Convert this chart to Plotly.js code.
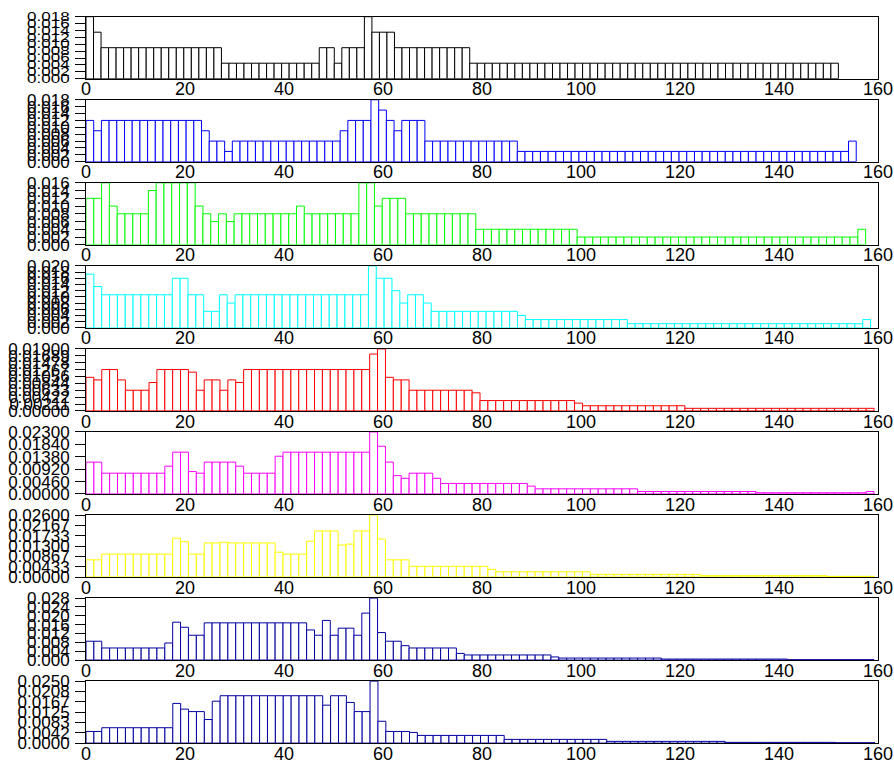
<!DOCTYPE html>
<html><head><meta charset="utf-8">
<script src="https://cdn.plot.ly/plotly-3.0.1.min.js"></script>
<style>html,body{margin:0;padding:0;background:#fff;}#chart{width:894px;height:763px;}</style>
</head><body><div id="chart"></div>
<script>
// histogram heights (density), 100 bins per panel
const p1 = [
0.018,0.0135,0.009,0.009,0.009,0.009,0.009,0.009,0.009,0.009,
0.009,0.009,0.009,0.009,0.009,0.009,0.009,0.009,0.0045,0.0045,
0.0045,0.0045,0.0045,0.0045,0.0045,0.0045,0.0045,0.0045,0.0045,0.0045,
0.0045,0.009,0.009,0.0045,0.009,0.009,0.009,0.018,0.0135,0.0135,
0.0135,0.009,0.009,0.009,0.009,0.009,0.009,0.009,0.009,0.009,
0.009,0.0045,0.0045,0.0045,0.0045,0.0045,0.0045,0.0045,0.0045,0.0045,
0.0045,0.0045,0.0045,0.0045,0.0045,0.0045,0.0045,0.0045,0.0045,0.0045,
0.0045,0.0045,0.0045,0.0045,0.0045,0.0045,0.0045,0.0045,0.0045,0.0045,
0.0045,0.0045,0.0045,0.0045,0.0045,0.0045,0.0045,0.0045,0.0045,0.0045,
0.0045,0.0045,0.0045,0.0045,0.0045,0.0045,0.0045,0.0045,0.0045,0.0045];
const p2 = [
0.012,0.009,0.012,0.012,0.012,0.012,0.012,0.012,0.012,0.012,
0.012,0.012,0.012,0.012,0.012,0.009,0.006,0.006,0.003,0.006,
0.006,0.006,0.006,0.006,0.006,0.006,0.006,0.006,0.006,0.006,
0.006,0.006,0.006,0.009,0.012,0.012,0.012,0.018,0.015,0.012,
0.009,0.012,0.012,0.012,0.006,0.006,0.006,0.006,0.006,0.006,
0.006,0.006,0.006,0.006,0.006,0.006,0.003,0.003,0.003,0.003,
0.003,0.003,0.003,0.003,0.003,0.003,0.003,0.003,0.003,0.003,
0.003,0.003,0.003,0.003,0.003,0.003,0.003,0.003,0.003,0.003,
0.003,0.003,0.003,0.003,0.003,0.003,0.003,0.003,0.003,0.003,
0.003,0.003,0.003,0.003,0.003,0.003,0.003,0.003,0.003,0.006];
const p3 = [
0.012,0.012,0.016,0.010,0.008,0.008,0.008,0.008,0.014,0.016,
0.016,0.016,0.016,0.016,0.010,0.008,0.006,0.008,0.006,0.008,
0.008,0.008,0.008,0.008,0.008,0.008,0.008,0.010,0.008,0.008,
0.008,0.008,0.008,0.008,0.008,0.016,0.016,0.010,0.012,0.012,
0.012,0.008,0.008,0.008,0.008,0.008,0.008,0.008,0.008,0.008,
0.004,0.004,0.004,0.004,0.004,0.004,0.004,0.004,0.004,0.004,
0.004,0.004,0.004,0.002,0.002,0.002,0.002,0.002,0.002,0.002,
0.002,0.002,0.002,0.002,0.002,0.002,0.002,0.002,0.002,0.002,
0.002,0.002,0.002,0.002,0.002,0.002,0.002,0.002,0.002,0.002,
0.002,0.002,0.002,0.002,0.002,0.002,0.002,0.002,0.002,0.004];
const p4 = [
0.01733,0.01333,0.01067,0.01067,0.01067,0.01067,0.01067,0.01067,0.01067,0.01067,
0.01067,0.016,0.016,0.01067,0.01067,0.00533,0.00533,0.01067,0.008,0.01067,
0.01067,0.01067,0.01067,0.01067,0.01067,0.01067,0.01067,0.01067,0.01067,0.01067,
0.01067,0.01067,0.01067,0.01067,0.01067,0.01067,0.020,0.016,0.016,0.012,
0.008,0.01067,0.01067,0.008,0.00533,0.00533,0.00533,0.00533,0.00533,0.00533,
0.00533,0.00533,0.00533,0.00533,0.00533,0.004,0.00267,0.00267,0.00267,0.00267,
0.00267,0.00267,0.00267,0.00267,0.00267,0.00267,0.00267,0.00267,0.00267,0.00133,
0.00133,0.00133,0.00133,0.00133,0.00133,0.00133,0.00133,0.00133,0.00133,0.00133,
0.00133,0.00133,0.00133,0.00133,0.00133,0.00133,0.00133,0.00133,0.00133,0.00133,
0.00133,0.00133,0.00133,0.00133,0.00133,0.00133,0.00133,0.00133,0.00133,0.00267];
const p5 = [
0.01029,0.0095,0.01267,0.01267,0.0095,0.00633,0.00633,0.00633,0.00871,0.01267,
0.01267,0.01267,0.01267,0.01188,0.00633,0.0095,0.0095,0.00633,0.0095,0.00871,
0.01267,0.01267,0.01267,0.01267,0.01267,0.01267,0.01267,0.01267,0.01267,0.01267,
0.01267,0.01267,0.01267,0.01267,0.01267,0.01267,0.01742,0.019,0.01029,0.0095,
0.0095,0.00633,0.00633,0.00633,0.00633,0.00633,0.00633,0.00633,0.00633,0.00554,
0.00317,0.00317,0.00317,0.00317,0.00317,0.00317,0.00317,0.00317,0.00317,0.00317,
0.00317,0.00317,0.00238,0.00158,0.00158,0.00158,0.00158,0.00158,0.00158,0.00158,
0.00158,0.00158,0.00158,0.00158,0.00158,0.00158,0.00079,0.00079,0.00079,0.00079,
0.00079,0.00079,0.00079,0.00079,0.00079,0.00079,0.00079,0.00079,0.00079,0.00079,
0.00079,0.00079,0.00079,0.00079,0.00079,0.00079,0.00079,0.00079,0.00079,0.00079];
const p6 = [
0.0118,0.0118,0.0077,0.0077,0.0077,0.0077,0.0077,0.0077,0.0077,0.0077,
0.0103,0.0155,0.0155,0.0083,0.0077,0.0118,0.0118,0.0118,0.0118,0.0103,
0.0077,0.0077,0.0077,0.0077,0.0140,0.0155,0.0155,0.0155,0.0155,0.0155,
0.0155,0.0155,0.0155,0.0155,0.0155,0.0155,0.023,0.0177,0.0118,0.0068,
0.0058,0.0077,0.0077,0.0077,0.0058,0.0039,0.0039,0.0039,0.0039,0.0039,
0.0039,0.0039,0.0039,0.0039,0.0039,0.0039,0.0029,0.0019,0.0019,0.0019,
0.0019,0.0019,0.0019,0.0019,0.0019,0.0019,0.0019,0.0019,0.0019,0.0019,
0.0009,0.0009,0.0009,0.0009,0.0009,0.0009,0.0009,0.0009,0.0009,0.0009,
0.0009,0.0009,0.0009,0.0009,0.0009,0.00045,0.00045,0.00045,0.00045,0.00045,
0.00045,0.00045,0.00045,0.00045,0.00045,0.00045,0.00045,0.00045,0.00045,0.0009];
const p7 = [
0.0072,0.0072,0.0096,0.0096,0.0096,0.0096,0.0096,0.0096,0.0096,0.0096,
0.0096,0.0163,0.0148,0.0096,0.0096,0.0143,0.0143,0.0146,0.0143,0.0143,
0.0143,0.0143,0.0143,0.0143,0.0104,0.0096,0.0096,0.0096,0.0150,0.0193,
0.0193,0.0193,0.0134,0.0138,0.0193,0.0193,0.026,0.0159,0.0072,0.0072,
0.0072,0.0045,0.0045,0.0045,0.0045,0.0045,0.0045,0.0045,0.0045,0.0045,
0.0045,0.0032,0.0022,0.0022,0.0022,0.0022,0.0022,0.0022,0.0022,0.0022,
0.0022,0.0022,0.0022,0.0022,0.0011,0.0011,0.0011,0.0011,0.0011,0.0011,
0.0011,0.0011,0.0011,0.0011,0.0011,0.0011,0.0011,0.0011,0.00056,0.00056,
0.00056,0.00056,0.00056,0.00056,0.00056,0.00056,0.00056,0.00056,0.00056,0.00056,
0.00056,0.00056,0.00056,0.00056,0.00028,0.00028,0.00028,0.00028,0.00028,0.00028];
const p8 = [
0.0085,0.0085,0.00545,0.00545,0.00545,0.00545,0.00545,0.00545,0.00545,0.00545,
0.0077,0.0171,0.0148,0.0112,0.0112,0.0168,0.0168,0.0168,0.0168,0.0168,
0.0168,0.0168,0.0168,0.0168,0.0168,0.0168,0.0168,0.0168,0.0136,0.0112,
0.0179,0.0112,0.0144,0.0144,0.0112,0.0212,0.028,0.0124,0.0085,0.0085,
0.0065,0.00545,0.00545,0.00545,0.00545,0.00545,0.00545,0.0030,0.0023,0.0023,
0.0023,0.0023,0.0023,0.0023,0.0023,0.0023,0.0023,0.0023,0.0023,0.0014,
0.0009,0.0009,0.0009,0.0009,0.0009,0.0009,0.0009,0.0009,0.0009,0.0009,
0.0009,0.0009,0.0009,0.00045,0.00045,0.00045,0.00045,0.00045,0.00045,0.00045,
0.00045,0.00045,0.00045,0.00045,0.00045,0.00045,0.00045,0.00045,0.00045,0.00015,
0.00015,0.00015,0.00015,0.00015,0.00015,0.00015,0.00015,0.00015,0.00015,0.00015];
const p9 = [
0.0047,0.0047,0.0062,0.0062,0.0062,0.0062,0.0062,0.0062,0.0062,0.0062,
0.0062,0.0160,0.0137,0.0127,0.0127,0.0095,0.0169,0.0191,0.0191,0.0191,
0.0191,0.0191,0.0191,0.0191,0.0191,0.0191,0.0191,0.0191,0.0191,0.0191,
0.0153,0.0191,0.0191,0.0164,0.0127,0.0127,0.025,0.0088,0.0047,0.0047,
0.0047,0.0043,0.0031,0.0031,0.0031,0.0031,0.0031,0.0031,0.0031,0.0031,
0.0031,0.0031,0.0031,0.0015,0.0015,0.0015,0.0015,0.0015,0.0015,0.0015,
0.0015,0.0015,0.0015,0.0015,0.0015,0.0015,0.0007,0.0007,0.0007,0.0007,
0.0007,0.0007,0.0007,0.0007,0.0007,0.0007,0.0007,0.0007,0.0007,0.0007,
0.0007,0.0003,0.0003,0.0003,0.0003,0.0003,0.0003,0.0003,0.0003,0.0003,
0.0003,0.0003,0.0003,0.0003,0.0003,0.00014,0.00014,0.00014,0.00014,0.00014];

// histogram range upper edge per panel (bins start at 0)
const histMax = [152, 155.6, 157.5, 158.5, 159.2, 159.2, 159.2, 159.2, 159.4];

// y tick labels per panel
const yt1 = ['0.000','0.002','0.004','0.006','0.008','0.010','0.012','0.014','0.016','0.018'];
const yt2 = ['0.000','0.002','0.004','0.006','0.008','0.010','0.012','0.014','0.016','0.018'];
const yt3 = ['0.000','0.002','0.004','0.006','0.008','0.010','0.012','0.014','0.016'];
const yt4 = ['0.000','0.002','0.004','0.006','0.008','0.010','0.012','0.014','0.016','0.018','0.020'];
const yt5 = ['0.00000','0.00211','0.00422','0.00633','0.00844','0.01056','0.01267','0.01478','0.01689','0.01900'];
const yt6 = ['0.00000','0.00460','0.00920','0.01380','0.01840','0.02300'];
const yt7 = ['0.00000','0.00433','0.00867','0.01300','0.01733','0.02167','0.02600'];
const yt8 = ['0.000','0.004','0.008','0.012','0.016','0.020','0.024','0.028'];
const yt9 = ['0.0000','0.0042','0.0083','0.0125','0.0167','0.0208','0.0250'];
const xTicks = ['0','20','40','60','80','100','120','140','160'];

const series = [p1,p2,p3,p4,p5,p6,p7,p8,p9];
const yTicks = [yt1,yt2,yt3,yt4,yt5,yt6,yt7,yt8,yt9];
const colors = ['#000000','#0000ff','#00ff00','#00ffff','#ff0000','#ff00ff','#ffff00','#0000a0','#0000a0'];

const W = 894, H = 763;
const left = 86, right = 878, top0 = 16.7, step = 83.05, ph = 62;
const font = 'Liberation Sans, Arial, Helvetica, sans-serif';

const traces = [];
const layout = {
  width: W, height: H, margin: {l:0, r:0, t:0, b:0},
  paper_bgcolor: '#fff', plot_bgcolor: '#fff',
  showlegend: false, bargap: 0,
  font: {family: font, color: '#000'}
};

series.forEach((vals, k) => {
  const n = k + 1;
  const bw = histMax[k] / vals.length;
  const xs = vals.map((_, i) => (i + 0.5) * bw);
  traces.push({
    type: 'bar', x: xs, y: vals, width: bw,
    xaxis: 'x' + (k ? n : ''), yaxis: 'y' + (k ? n : ''),
    marker: {color: '#ffffff', line: {color: colors[k], width: 1}},
    hoverinfo: 'skip'
  });
  const tv = yTicks[k].map(Number);
  const t = top0 + step * k;
  layout['xaxis' + (k ? n : '')] = {
    domain: [left / W, right / W], range: [0, 160],
    anchor: 'y' + (k ? n : ''),
    tickmode: 'array', tickvals: xTicks.map(Number), ticktext: xTicks,
    ticks: '', showgrid: false, zeroline: false,
    ticklabelstandoff: -6,
    showline: true, mirror: true, linecolor: '#000', linewidth: 1,
    tickfont: {family: font, size: 18, color: '#000'},
    automargin: false, fixedrange: true
  };
  layout['yaxis' + (k ? n : '')] = {
    domain: [1 - (t + ph) / H, 1 - t / H], range: [0, tv[tv.length - 1]],
    anchor: 'x' + (k ? n : ''),
    tickmode: 'array', tickvals: tv, ticktext: yTicks[k],
    ticks: 'outside', ticklen: 10, tickwidth: 1, tickcolor: '#000',
    ticklabelstandoff: 2,
    showgrid: false, zeroline: false,
    showline: true, mirror: true, linecolor: '#000', linewidth: 1,
    tickfont: {family: font, size: 17, color: '#000'},
    automargin: false, fixedrange: true
  };
});

Plotly.newPlot('chart', traces, layout, {staticPlot: true}).then(gd => {
  gd.querySelectorAll('g.ytick').forEach(g => {
    g.style.transformBox = 'fill-box';
    g.style.transformOrigin = '50% 50%';
    g.style.transform = 'scaleY(0.7)';
  });
});
</script>
</body></html>
